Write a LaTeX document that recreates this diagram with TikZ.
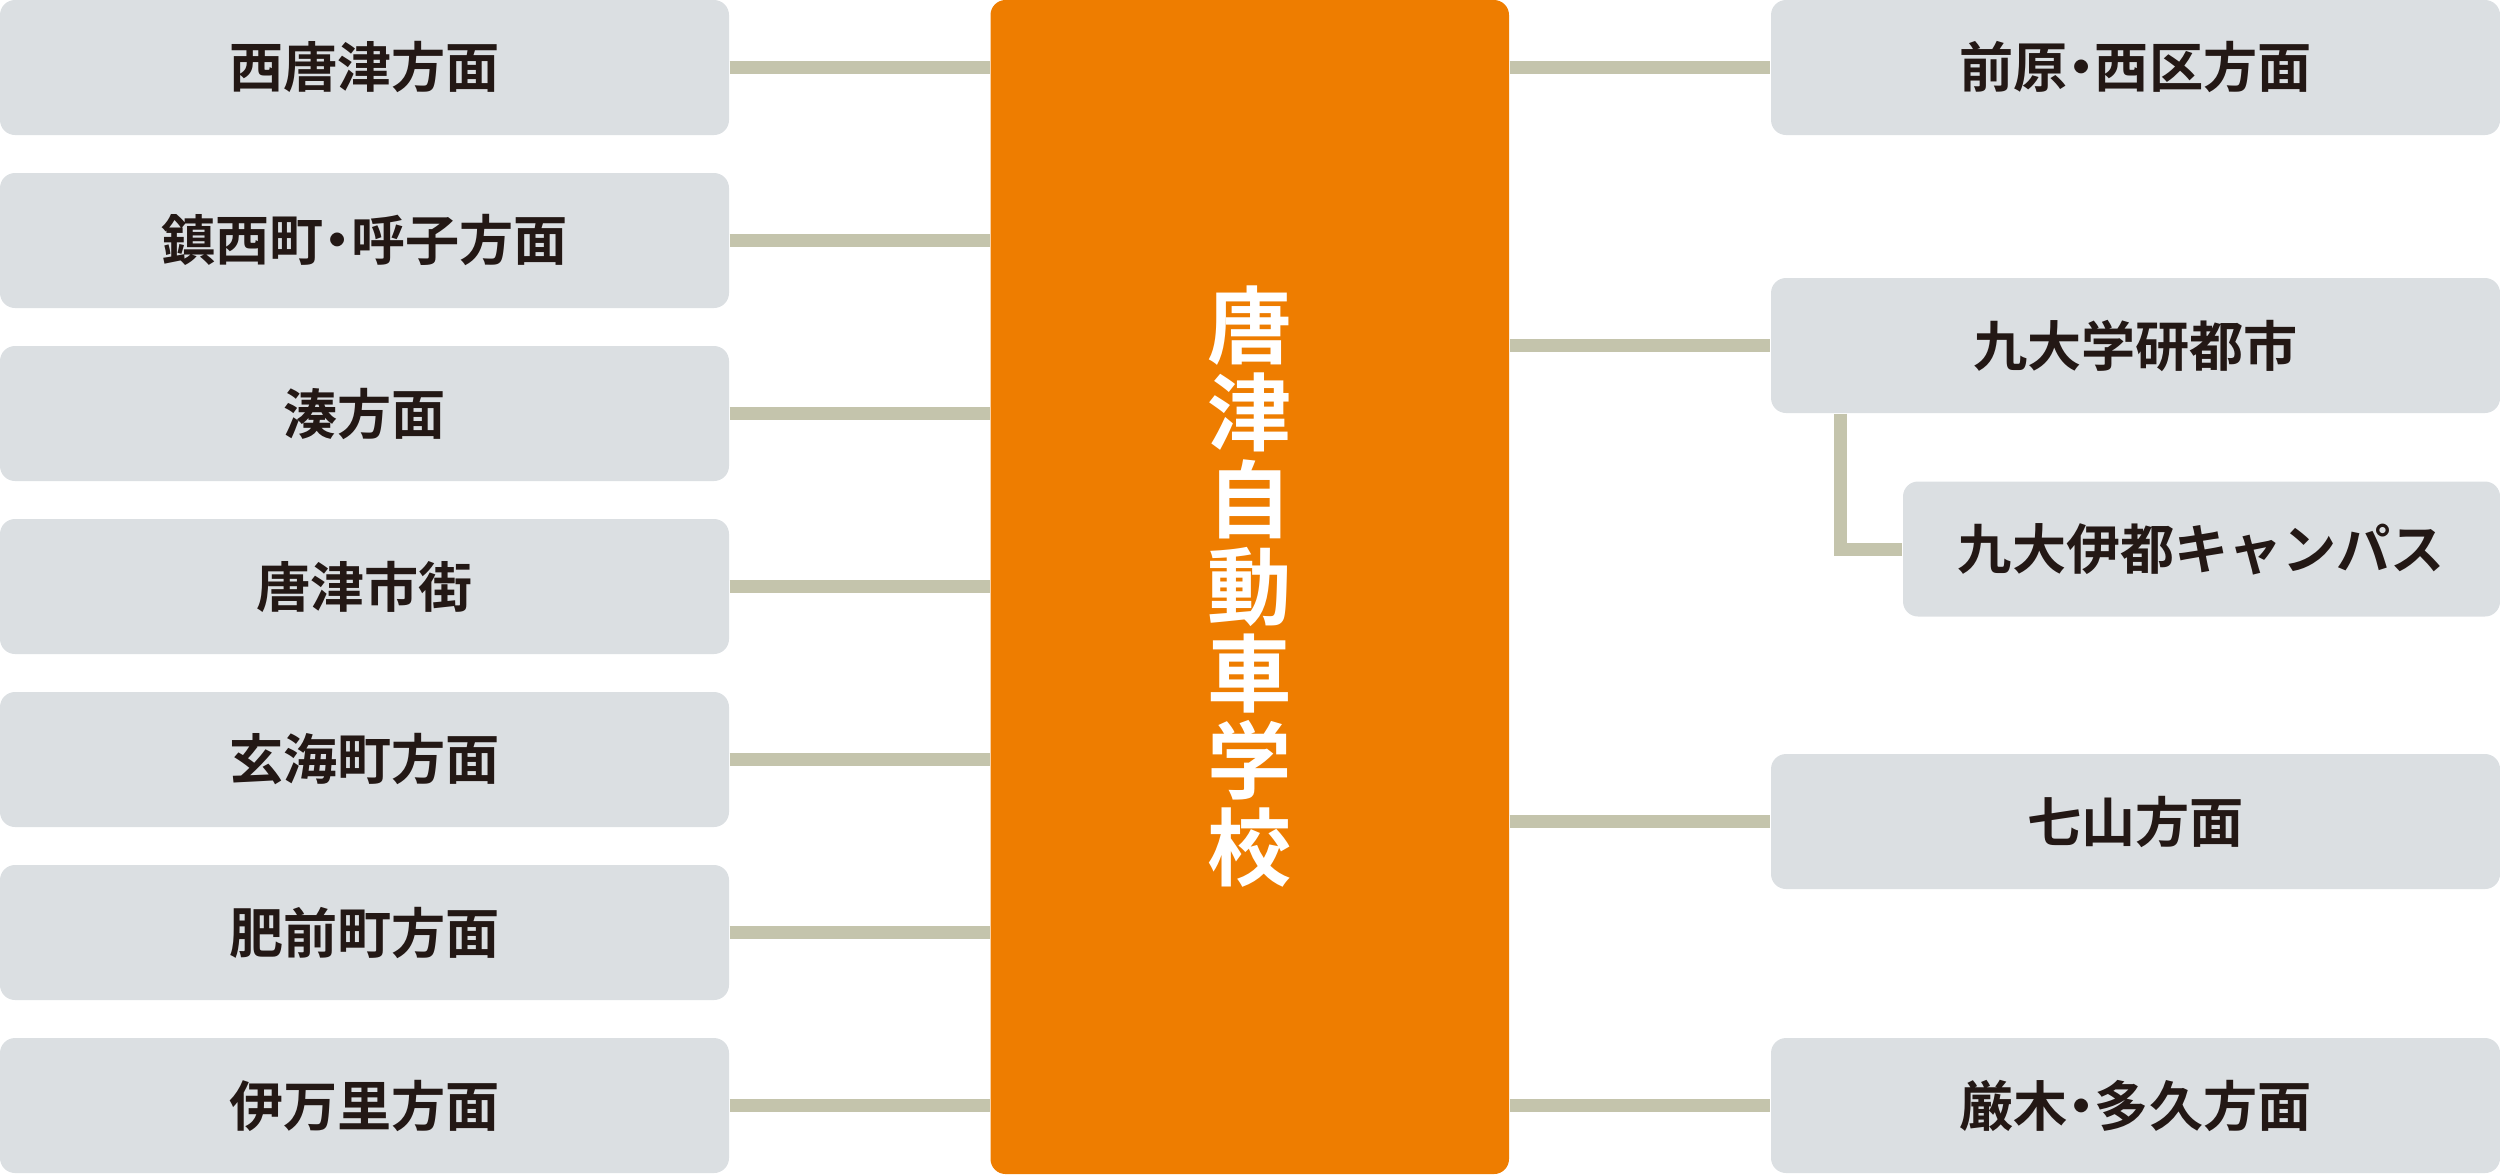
\documentclass[tikz,border=0pt]{standalone}
\usepackage{fontspec}
\newfontfamily\jpfont{Noto Sans CJK JP}[BoldFont={Noto Sans CJK JP Bold}]
\usepackage{tikz}
\usetikzlibrary{calc}
\definecolor{boxgray}{HTML}{DBDFE2}
\definecolor{linkgray}{HTML}{C4C4AC}
\definecolor{schoolorange}{HTML}{EE7D00}
\definecolor{inkblack}{HTML}{231815}
\newcommand{\jdot}{\kern-.25em・\kern-.25em}
\tikzset{
    dest/.style={fill=boxgray, rounded corners=0.15cm, minimum width=7.29cm, minimum height=1.35cm, inner sep=0pt, text=inkblack, font=\jpfont\bfseries\fontsize{15.4pt}{18pt}\selectfont},
    link/.style={draw=linkgray, line width=0.13cm},
}

\begin{document}
\begin{tikzpicture}[y=-1cm]
    \useasboundingbox (0,0) rectangle (25,11.74);
    \node[fill=schoolorange, rounded corners=0.15cm, minimum width=5.185cm, minimum height=11.74cm, inner sep=0pt, align=center, text=white, font=\jpfont\bfseries\fontsize{24pt}{24.75pt}\selectfont] (school) at (12.4975,5.87) {唐\\津\\自\\動\\車\\学\\校};
    % left side
    \node[dest] (nishikaratsu) at (3.645,0.675) {西唐津方面};
    \node[dest] (yobuko) at (3.645,2.405) {鎮西町\jdot 呼子方面};
    \node[dest] (minato) at (3.645,4.135) {湊方面};
    \node[dest] (shigai) at (3.645,5.865) {唐津市街};
    \node[dest] (genkai) at (3.645,7.595) {玄海町方面};
    \node[dest] (hizen) at (3.645,9.325) {肥前町方面};
    \node[dest] (imari) at (3.645,11.055) {伊万里方面};
    \draw[link] (nishikaratsu.east) -- (nishikaratsu.east -| school.west);
    \draw[link] (yobuko.east) -- (yobuko.east -| school.west);
    \draw[link] (minato.east) -- (minato.east -| school.west);
    \draw[link] (shigai.east) -- (shigai.east -| school.west);
    \draw[link] (genkai.east) -- (genkai.east -| school.west);
    \draw[link] (hizen.east) -- (hizen.east -| school.west);
    \draw[link] (imari.east) -- (imari.east -| school.west);
    % right side
    \node[dest] (maebaru) at (21.355,0.675) {前原\jdot 西区方面};
    \node[dest] (kyudai) at (21.355,3.455) {九大学研都市};
    \node[dest, minimum width=5.97cm] (ito) at (22.015,5.49) {九大伊都キャンパス};
    \node[dest] (nanayama) at (21.355,8.215) {七山方面};
    \node[dest] (kyuragi) at (21.355,11.055) {厳木\jdot 多久方面};
    \draw[link] (school.east |- maebaru.west) -- (maebaru.west);
    \draw[link] (school.east |- kyudai.west) -- (kyudai.west);
    \draw[link] ([xshift=0.7cm]kyudai.south west) |- (ito.west);
    \draw[link] (school.east |- nanayama.west) -- (nanayama.west);
    \draw[link] (school.east |- kyuragi.west) -- (kyuragi.west);
\end{tikzpicture}
\end{document}
